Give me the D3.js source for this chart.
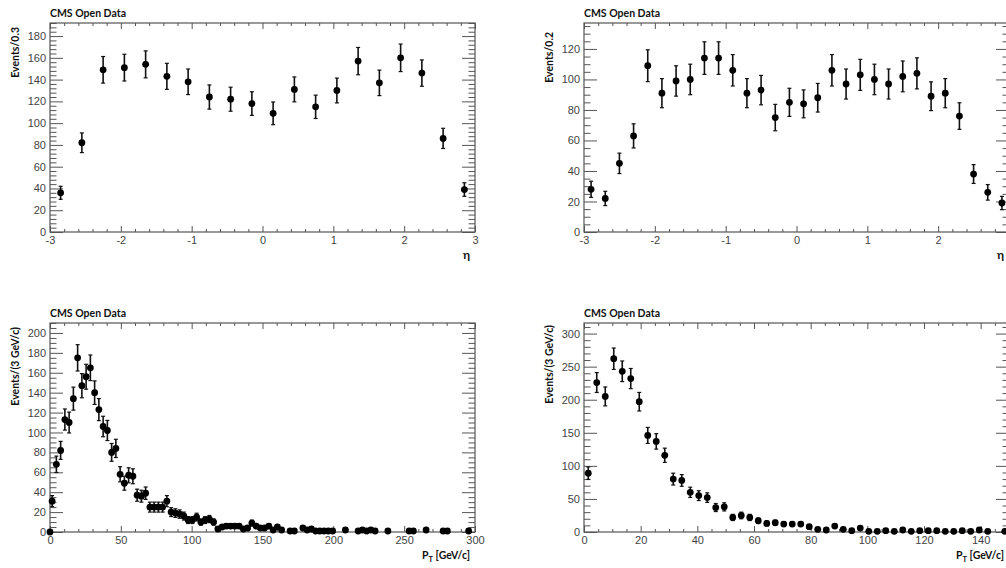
<!DOCTYPE html>
<html>
<head>
<meta charset="utf-8">
<script src="https://cdn.jsdelivr.net/npm/d3@7"></script>
<style>
  html, body { margin: 0; padding: 0; background: #fff; }
  svg { display: block; }
  .tick text { font-family: "Liberation Sans", Arial, sans-serif; font-size: 11px; fill: #444; }
  .tick line { stroke: #555; stroke-width: 1; }
  .title { font-family: Lato, "Open Sans", sans-serif; font-weight: bold; font-size: 10.5px; fill: #111; }
</style>
</head>
<body>
<svg id="chart" width="1006" height="568"></svg>
<script>
// ---------------- DATA ----------------
// Panel A: eta, 0.3 bins
const etaCenters03 = [-2.85,-2.55,-2.25,-1.95,-1.65,-1.35,-1.05,-0.75,-0.45,-0.15,0.15,0.45,0.75,1.05,1.35,1.65,1.95,2.25,2.55,2.85];
const etaEvents03  = [36,82,149,151,154,143,138,124,122,118,109,131,115,130,157,137,160,146,86,39];

// Panel B: eta, 0.2 bins
const etaCenters02 = [-2.9,-2.7,-2.5,-2.3,-2.1,-1.9,-1.7,-1.5,-1.3,-1.1,-0.9,-0.7,-0.5,-0.3,-0.1,0.1,0.3,0.5,0.7,0.9,1.1,1.3,1.5,1.7,1.9,2.1,2.3,2.5,2.7,2.9];
const etaEvents02  = [28,22,45,63,109,91,99,100,114,114,106,91,93,75,85,84,88,106,97,103,100,97,102,104,89,91,76,38,26,19];

// Panel C: pT, 3 GeV bins, 0-300
const ptCentersA = [0,1.5,4.5,7.5,10.5,13.5,16.5,19.5,22.5,25.5,28.5,31.5,34.5,37.5,40.5,43.5,46.5,49.5,52.5,55.5,58.5,61.5,64.5,67.5,70.5,73.5,76.5,79.5,82.5,85.5,88.5,91.5,94.5,97.5,100.5,103.5,106.5,109.5,112.5,115.5,118.5,121.5,124.5,127.5,130.5,133.5,136.5,139.5,142.5,145.5,148.5,151.5,154.5,157.5,160.5,163.5,169.5,172.5,178.5,181.5,184.5,187.5,190.5,193.5,196.5,199.5,208.5,217.5,220.5,223.5,226.5,229.5,238.5,253.5,256.5,265.5,277.5,280.5,295.5];
const ptEventsA  = [0,31,68,82,113,110,134,175,147,156,165,140,123,106,102,80,84,58,49,57,56,37,36,39,25,25,25,25,31,20,19,18,16,12,12,15,10,12,13,10,3,5,6,6,6,6,3,4,9,6,4,4,6,2,5,2,1,1,4,2,3,1,1,1,1,1,2,1,2,1,2,1,1,1,1,2,1,1,1];

// Panel D: pT, 3 GeV bins, 0-150
const ptCentersB = [1.5,4.5,7.5,10.5,13.5,16.5,19.5,22.5,25.5,28.5,31.5,34.5,37.5,40.5,43.5,46.5,49.5,52.5,55.5,58.5,61.5,64.5,67.5,70.5,73.5,76.5,79.5,82.5,85.5,88.5,91.5,94.5,97.5,100.5,103.5,106.5,109.5,112.5,115.5,118.5,121.5,124.5,127.5,130.5,133.5,136.5,139.5,142.5,148.5];
const ptEventsB  = [89,226,205,262,243,232,197,146,137,116,80,78,60,55,52,37,38,22,25,22,17,13,14,12,12,12,8,4,3,9,4,2,6,1,1,2,1,3,1,2,2,2,1,1,2,1,3,1,1];

// Tick labels
const etaTicks = [-3,-2,-1,0,1,2,3];
const yTicksA = [0,20,40,60,80,100,120,140,160,180];
const yTicksB = [0,20,40,60,80,100,120];
const ptTicksA = [0,50,100,150,200,250,300];
const yTicksC = [0,20,40,60,80,100,120,140,160,180,200];
const ptTicksB = [0,20,40,60,80,100,120,140];
const yTicksD = [0,50,100,150,200,250,300];

// ---------------- LAYOUT ----------------
const svg = d3.select("#chart");
svg.append("rect").attr("width",1006).attr("height",568).attr("fill","#fff");

const panels = [
  {left:50,  top:23,  w:425, h:209, xd:[-3,3],  yd:[0,192], xt:etaTicks, xminor:0.2, yt:yTicksA, yminor:4,
   xs:etaCenters03, ys:etaEvents03, ytitle:"Events/0.3", yOff:4, xtitle:"eta"},
  {left:584, top:23,  w:425, h:209, xd:[-3,3],  yd:[0,137], xt:etaTicks, xminor:0.2, yt:yTicksB, yminor:5,
   xs:etaCenters02, ys:etaEvents02, ytitle:"Events/0.2", yOff:9, xtitle:"eta"},
  {left:50,  top:323, w:425, h:209, xd:[0,300], yd:[0,210], xt:ptTicksA, xminor:10, yt:yTicksC, yminor:5,
   xs:ptCentersA, ys:ptEventsA, ytitle:"Events/(3 GeV/c)", yOff:4, xtitle:"pt"},
  {left:584, top:323, w:425, h:209, xd:[0,150], yd:[0,316], xt:ptTicksB, xminor:5, yt:yTicksD, yminor:10,
   xs:ptCentersB, ys:ptEventsB, ytitle:"Events/(3 GeV/c)", yOff:2, xtitle:"pt"}
];

function styleAxis(g){ g.select(".domain").remove(); }
const fmt = d => String(d);

panels.forEach(p => {
  const g = svg.append("g").attr("transform", `translate(${p.left},${p.top})`);
  const x = d3.scaleLinear().domain(p.xd).range([0,p.w]);
  const y = d3.scaleLinear().domain(p.yd).range([p.h,0]);

  const xMinorVals = d3.range(p.xd[0], p.xd[1] + 1e-9, p.xminor).filter(v => !p.xt.some(t => Math.abs(t-v) < 1e-6));
  const yMinorVals = d3.range(p.yd[0], p.yd[1] + 1e-9, p.yminor).filter(v => !p.yt.some(t => Math.abs(t-v) < 1e-6));

  // bottom axis
  g.append("g").attr("transform",`translate(0,${p.h})`)
    .call(d3.axisBottom(x).tickValues(p.xt).tickSize(-6).tickPadding(4).tickFormat(fmt))
    .call(styleAxis);
  g.append("g").attr("transform",`translate(0,${p.h})`)
    .call(d3.axisBottom(x).tickValues(xMinorVals).tickSize(-3).tickFormat(""))
    .call(styleAxis);
  // top axis
  g.append("g")
    .call(d3.axisTop(x).tickValues(p.xt).tickSize(-6).tickFormat(""))
    .call(styleAxis);
  g.append("g")
    .call(d3.axisTop(x).tickValues(xMinorVals).tickSize(-3).tickFormat(""))
    .call(styleAxis);
  // left axis
  g.append("g")
    .call(d3.axisLeft(y).tickValues(p.yt).tickSize(-13).tickPadding(4).tickFormat(fmt))
    .call(styleAxis);
  g.append("g")
    .call(d3.axisLeft(y).tickValues(yMinorVals).tickSize(-6.5).tickFormat(""))
    .call(styleAxis);
  // right axis
  g.append("g").attr("transform",`translate(${p.w},0)`)
    .call(d3.axisRight(y).tickValues(p.yt).tickSize(-13).tickFormat(""))
    .call(styleAxis);
  g.append("g").attr("transform",`translate(${p.w},0)`)
    .call(d3.axisRight(y).tickValues(yMinorVals).tickSize(-6.5).tickFormat(""))
    .call(styleAxis);

  // frame
  g.append("rect").attr("x",0).attr("y",0).attr("width",p.w).attr("height",p.h)
    .attr("fill","none").attr("stroke","#555").attr("stroke-width",1.2);

  // data
  const data = p.xs.map((xv,i) => ({x:xv, v:p.ys[i], e:Math.sqrt(p.ys[i])}));
  const pts = g.append("g");
  pts.selectAll("line.err").data(data.filter(d => d.e > 0)).join("line")
    .attr("x1", d => x(d.x)).attr("x2", d => x(d.x))
    .attr("y1", d => y(d.v - d.e)).attr("y2", d => y(d.v + d.e))
    .attr("stroke","#111").attr("stroke-width",1.6);
  pts.selectAll("line.capT").data(data.filter(d => d.e > 0)).join("line")
    .attr("x1", d => x(d.x)-2).attr("x2", d => x(d.x)+2)
    .attr("y1", d => y(d.v + d.e)).attr("y2", d => y(d.v + d.e))
    .attr("stroke","#111").attr("stroke-width",1.2);
  pts.selectAll("line.capB").data(data.filter(d => d.e > 0)).join("line")
    .attr("x1", d => x(d.x)-2).attr("x2", d => x(d.x)+2)
    .attr("y1", d => y(d.v - d.e)).attr("y2", d => y(d.v - d.e))
    .attr("stroke","#111").attr("stroke-width",1.2);
  pts.selectAll("circle").data(data).join("circle")
    .attr("cx", d => x(d.x)).attr("cy", d => y(d.v)).attr("r",3.4).attr("fill","#000");

  // titles
  svg.append("text").attr("class","title").attr("x",p.left).attr("y",p.top-6).text("CMS Open Data");
  svg.append("text").attr("class","title")
    .attr("transform",`translate(${p.left-31},${p.top+p.yOff}) rotate(-90)`)
    .attr("text-anchor","end").text(p.ytitle);
  const xt = svg.append("text").attr("class","title").attr("text-anchor","end")
    .attr("x", Math.min(p.left+p.w-5, 1004)).attr("y", p.top+p.h+27);
  if (p.xtitle === "eta") {
    xt.style("font-size","12px").text("η");
  } else {
    xt.append("tspan").text("P");
    xt.append("tspan").attr("dy",3).style("font-size","7.5px").text("T");
    xt.append("tspan").attr("dy",-3).text(" [GeV/c]");
  }
});
</script>
</body>
</html>
